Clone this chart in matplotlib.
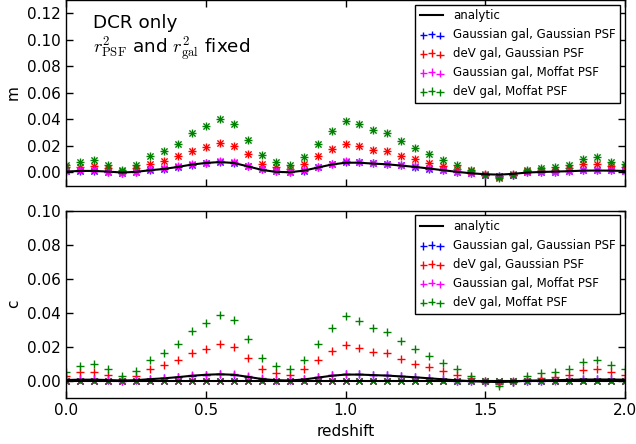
import numpy as np
import matplotlib
matplotlib.use('Agg')
import matplotlib.pyplot as plt

plt.rcParams['font.family'] = 'DejaVu Sans'
plt.rcParams['mathtext.fontset'] = 'cm'
plt.rcParams['xtick.direction'] = 'in'
plt.rcParams['ytick.direction'] = 'in'
plt.rcParams['xtick.top'] = True
plt.rcParams['ytick.right'] = True
plt.rcParams['font.size'] = 11

# redshift grid
redshift = np.linspace(0.0, 2.0, 41)

# --- m (multiplicative bias) ---
m_analytic = [0.0005, 0.0010, 0.0010, 0.0005, -0.0002, 0.0003, 0.0015, 0.0025, 0.0040, 0.0058,
              0.0070, 0.0077, 0.0070, 0.0045, 0.0018, 0.0003, 0.0000, 0.0012, 0.0035, 0.0058,
              0.0072, 0.0072, 0.0065, 0.0060, 0.0050, 0.0040, 0.0028, 0.0015, 0.0003, -0.0008,
              -0.0015, -0.0018, -0.0012, -0.0002, 0.0002, 0.0005, 0.0008, 0.0012, 0.0013, 0.0012,
              0.0010]
m_gal_gauss_psf_gauss = [0.0008, 0.0012, 0.0012, 0.0004, -0.0004, 0.0004, 0.0020, 0.0028, 0.0042, 0.0058,
                         0.0070, 0.0080, 0.0072, 0.0047, 0.0022, 0.0008, 0.0003, 0.0013, 0.0037, 0.0062,
                         0.0078, 0.0075, 0.0068, 0.0062, 0.0052, 0.0042, 0.0028, 0.0014, 0.0000, -0.0006,
                         -0.0018, -0.0028, -0.0018, 0.0000, 0.0001, 0.0002, 0.0009, 0.0017, 0.0018, 0.0014,
                         0.0010]
m_gal_dev_psf_gauss = [0.0040, 0.0040, 0.0048, 0.0033, 0.0010, 0.0035, 0.0066, 0.0083, 0.0123, 0.0161,
                       0.0192, 0.0222, 0.0199, 0.0134, 0.0066, 0.0040, 0.0028, 0.0066, 0.0121, 0.0176,
                       0.0212, 0.0197, 0.0171, 0.0161, 0.0126, 0.0101, 0.0073, 0.0048, 0.0025, 0.0010,
                       -0.0015, -0.0035, -0.0015, 0.0010, 0.0015, 0.0020, 0.0033, 0.0060, 0.0066, 0.0050,
                       0.0040]
m_gal_gauss_psf_moffat = [0.0010, 0.0015, 0.0015, 0.0005, -0.0005, 0.0005, 0.0025, 0.0030, 0.0045, 0.0060,
                          0.0072, 0.0082, 0.0075, 0.0050, 0.0025, 0.0010, 0.0005, 0.0015, 0.0040, 0.0065,
                          0.0082, 0.0078, 0.0070, 0.0065, 0.0055, 0.0045, 0.0030, 0.0015, 0.0000, -0.0005,
                          -0.0020, -0.0030, -0.0020, 0.0000, 0.0000, 0.0000, 0.0010, 0.0020, 0.0020, 0.0015,
                          0.0010]
m_gal_dev_psf_moffat = [0.0053, 0.0078, 0.0091, 0.0058, 0.0015, 0.0053, 0.0123, 0.0159, 0.0212, 0.0295,
                        0.0348, 0.0401, 0.0365, 0.0242, 0.0129, 0.0076, 0.0058, 0.0118, 0.0212, 0.0315,
                        0.0388, 0.0362, 0.0318, 0.0293, 0.0234, 0.0184, 0.0141, 0.0096, 0.0058, 0.0015,
                        -0.0018, -0.0043, -0.0018, 0.0020, 0.0035, 0.0040, 0.0058, 0.0101, 0.0116, 0.0081,
                        0.0066]

# --- c (additive bias) ---
c_analytic = [0.0003, 0.0005, 0.0005, 0.0003, 0.0000, 0.0002, 0.0008, 0.0013, 0.0020, 0.0028,
              0.0034, 0.0037, 0.0034, 0.0022, 0.0009, 0.0002, 0.0000, 0.0006, 0.0017, 0.0028,
              0.0035, 0.0035, 0.0032, 0.0029, 0.0024, 0.0019, 0.0013, 0.0007, 0.0001, -0.0004,
              -0.0007, -0.0009, -0.0006, -0.0001, 0.0001, 0.0002, 0.0004, 0.0006, 0.0006, 0.0006,
              0.0005]
c_gal_gauss_psf_gauss = [0.0005, 0.0007, 0.0007, 0.0004, 0.0000, 0.0003, 0.0009, 0.0014, 0.0021, 0.0029,
                         0.0034, 0.0038, 0.0035, 0.0023, 0.0010, 0.0003, 0.0001, 0.0007, 0.0018, 0.0030,
                         0.0037, 0.0036, 0.0033, 0.0030, 0.0025, 0.0020, 0.0014, 0.0007, 0.0000, -0.0004,
                         -0.0009, -0.0012, -0.0008, -0.0001, 0.0000, 0.0001, 0.0004, 0.0008, 0.0008, 0.0007,
                         0.0005]
c_gal_dev_psf_gauss = [0.0025, 0.0049, 0.0053, 0.0033, 0.0010, 0.0029, 0.0069, 0.0090, 0.0119, 0.0163,
                       0.0186, 0.0213, 0.0196, 0.0133, 0.0069, 0.0045, 0.0035, 0.0067, 0.0119, 0.0172,
                       0.0209, 0.0190, 0.0170, 0.0160, 0.0127, 0.0100, 0.0078, 0.0055, 0.0031, 0.0016,
                       0.0000, -0.0018, 0.0000, 0.0010, 0.0016, 0.0022, 0.0033, 0.0060, 0.0067, 0.0049,
                       0.0035]
c_gal_gauss_psf_moffat = [0.0008, 0.0010, 0.0010, 0.0005, 0.0000, 0.0005, 0.0010, 0.0015, 0.0022, 0.0030,
                          0.0035, 0.0040, 0.0037, 0.0025, 0.0012, 0.0005, 0.0002, 0.0008, 0.0020, 0.0032,
                          0.0040, 0.0038, 0.0035, 0.0032, 0.0027, 0.0022, 0.0015, 0.0008, 0.0000, -0.0003,
                          -0.0010, -0.0015, -0.0010, 0.0000, 0.0000, 0.0000, 0.0005, 0.0010, 0.0010, 0.0008,
                          0.0005]
c_gal_dev_psf_moffat = [0.0049, 0.0084, 0.0100, 0.0065, 0.0025, 0.0059, 0.0123, 0.0160, 0.0213, 0.0290,
                        0.0337, 0.0384, 0.0356, 0.0245, 0.0131, 0.0086, 0.0067, 0.0119, 0.0213, 0.0309,
                        0.0378, 0.0350, 0.0311, 0.0288, 0.0235, 0.0184, 0.0145, 0.0104, 0.0065, 0.0025,
                        -0.0004, -0.0033, -0.0010, 0.0029, 0.0045, 0.0051, 0.0069, 0.0110, 0.0119, 0.0090,
                        0.0070]
# second component of c is zero for everything
c2_values = [0.0] * 41

labels = ['Gaussian gal, Gaussian PSF', 'deV gal, Gaussian PSF',
          'Gaussian gal, Moffat PSF', 'deV gal, Moffat PSF']
colors = ['#0000ff', '#ff0000', '#ff00ff', '#008000']

m_series = [m_gal_gauss_psf_gauss, m_gal_dev_psf_gauss, m_gal_gauss_psf_moffat, m_gal_dev_psf_moffat]
c_series = [c_gal_gauss_psf_gauss, c_gal_dev_psf_gauss, c_gal_gauss_psf_moffat, c_gal_dev_psf_moffat]

fig = plt.figure(figsize=(6.36, 4.44), dpi=100)
ax1 = fig.add_axes([0.1038, 0.5822, 0.8789, 0.4178])
ax2 = fig.add_axes([0.1038, 0.1047, 0.8789, 0.4207])

# top panel: m
ax1.plot(redshift, m_analytic, color='k', lw=1.5, label='analytic')
for vals, col, lab in zip(m_series, colors, labels):
    ax1.scatter(redshift, vals, marker='+', s=28, color=col, linewidths=1.0, label=lab)
    ax1.scatter(redshift, vals, marker='x', s=20, color=col, linewidths=1.0)
ax1.set_xlim(0, 2)
ax1.set_ylim(-0.01, 0.13)
ax1.set_yticks([0.0, 0.02, 0.04, 0.06, 0.08, 0.10, 0.12])
ax1.set_xticks([0.0, 0.5, 1.0, 1.5, 2.0])
ax1.tick_params(labelbottom=False)
ax1.set_ylabel('m')
ax1.text(0.048, 0.849, 'DCR only', transform=ax1.transAxes, fontsize=13.2, va='baseline')
ax1.text(0.048, 0.713, r'$r^2_{\rm PSF}$ and $r^2_{\rm gal}$ fixed', transform=ax1.transAxes,
         fontsize=13.2, va='baseline')

# bottom panel: c
ax2.plot(redshift, c_analytic, color='k', lw=1.5, label='analytic')
ax2.plot(redshift, c2_values, color='k', lw=1.5)
for vals, col, lab in zip(c_series, colors, labels):
    ax2.scatter(redshift, vals, marker='+', s=28, color=col, linewidths=1.0, label=lab)
    ax2.scatter(redshift, c2_values, marker='x', s=20, color=col, linewidths=1.0)
ax2.set_xlim(0, 2)
ax2.set_ylim(-0.01, 0.10)
ax2.set_yticks([0.0, 0.02, 0.04, 0.06, 0.08, 0.10])
ax2.set_xticks([0.0, 0.5, 1.0, 1.5, 2.0])
ax2.set_ylabel('c')
ax2.set_xlabel('redshift')

for ax in (ax1, ax2):
    ax.yaxis.set_major_formatter(matplotlib.ticker.FormatStrFormatter('%.2f'))
    ax.xaxis.set_major_formatter(matplotlib.ticker.FormatStrFormatter('%.1f'))
    ax.tick_params(length=5, width=1, pad=4)
    for sp in ax.spines.values():
        sp.set_linewidth(1.0)
    leg = ax.legend(loc='upper right', fontsize=8.5, scatterpoints=3, fancybox=False,
                    framealpha=1, edgecolor='k', borderaxespad=0.4)
    leg.get_frame().set_linewidth(1.0)

fig.savefig('out.png', dpi=100)
